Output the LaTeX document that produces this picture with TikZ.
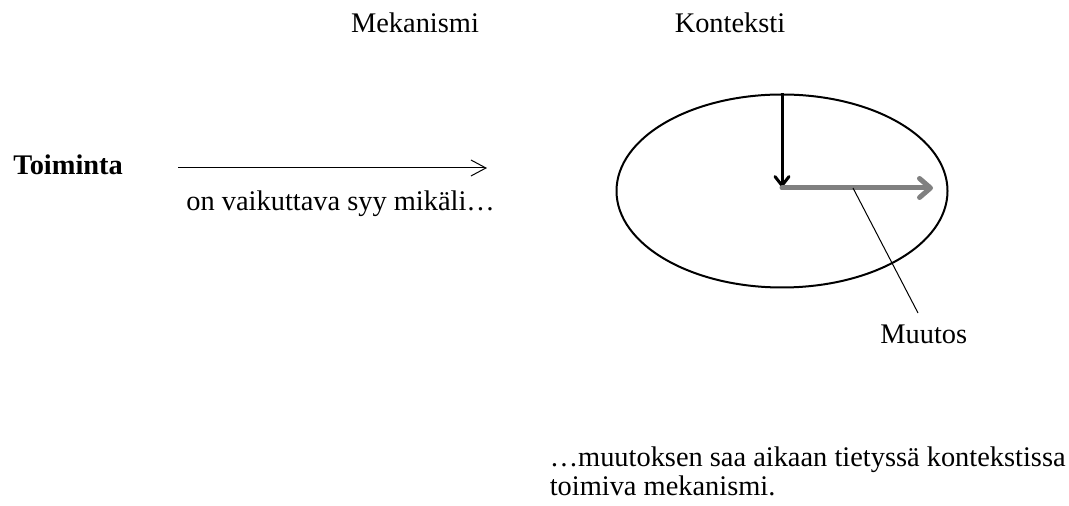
\documentclass[tikz,border=0pt]{standalone}
\usepackage{fontspec}
\setmainfont{Liberation Serif}
\usepackage{tikz}
\usetikzlibrary{arrows.meta, shapes.geometric, positioning}

\begin{document}
\begin{tikzpicture}[x=0.5pt,y=-0.5pt,>=Stealth,
  testo/.style={font=\fontsize{14.2}{17}\selectfont, inner sep=0pt},
  freccia/.style={-{Straight Barb[length=7.5pt,width=8pt]}, line width=0.5pt},
  giu/.style={-{Straight Barb[length=4.5pt,width=7pt,line cap=round]}, line width=1.5pt},
  muta/.style={-{Straight Barb[length=5.5pt,width=9.5pt,line cap=round,line join=round]}, line width=2.5pt, draw=gray, line cap=round}]

% Cornice
\useasboundingbox (0,0) rectangle (1069,506);

% --- Titoli ---
\node[testo, anchor=base] (mek) at (415,33) {Mekanismi};
\node[testo, anchor=base] (kon) at (730,33) {Konteksti};

% --- Parte sinistra ---
\node[testo, anchor=base west, font=\fontsize{14.2}{17}\selectfont\bfseries] (toim) at (13,175) {Toiminta};
\coordinate (a1) at (178,168);
\coordinate (a2) at (487,168);
\draw[freccia] (a1) -- (a2);
\node[testo, anchor=base west] (syy) at (186,211) {on vaikuttava syy mikäli…};

% --- Contesto: ellisse ---
\node[ellipse, draw, line width=1pt, minimum width=165.5pt, minimum height=96.5pt, inner sep=0pt] (ell) at (782,191) {};
\coordinate (c) at (782,188);
\coordinate (fine) at (933,188);
\draw[giu] (ell.north) -- (c);
\draw[muta] (c) -- (fine);

% Etichetta del cambiamento
\node[testo, anchor=base west] (muu) at (880,344) {Muutos};
\coordinate (p) at (853,188);
\coordinate (q) at (918,313);
\draw[line width=0.5pt] (p) -- (q);

% --- Testo in basso ---
\node[testo, anchor=base east] (mech1) at (1066,467) {…muutoksen saa aikaan tietyssä kontekstissa};
\node[testo, anchor=base west] (mech2) at ([yshift=-14.5pt]mech1.base west) {toimiva mekanismi.};

\end{tikzpicture}
\end{document}
